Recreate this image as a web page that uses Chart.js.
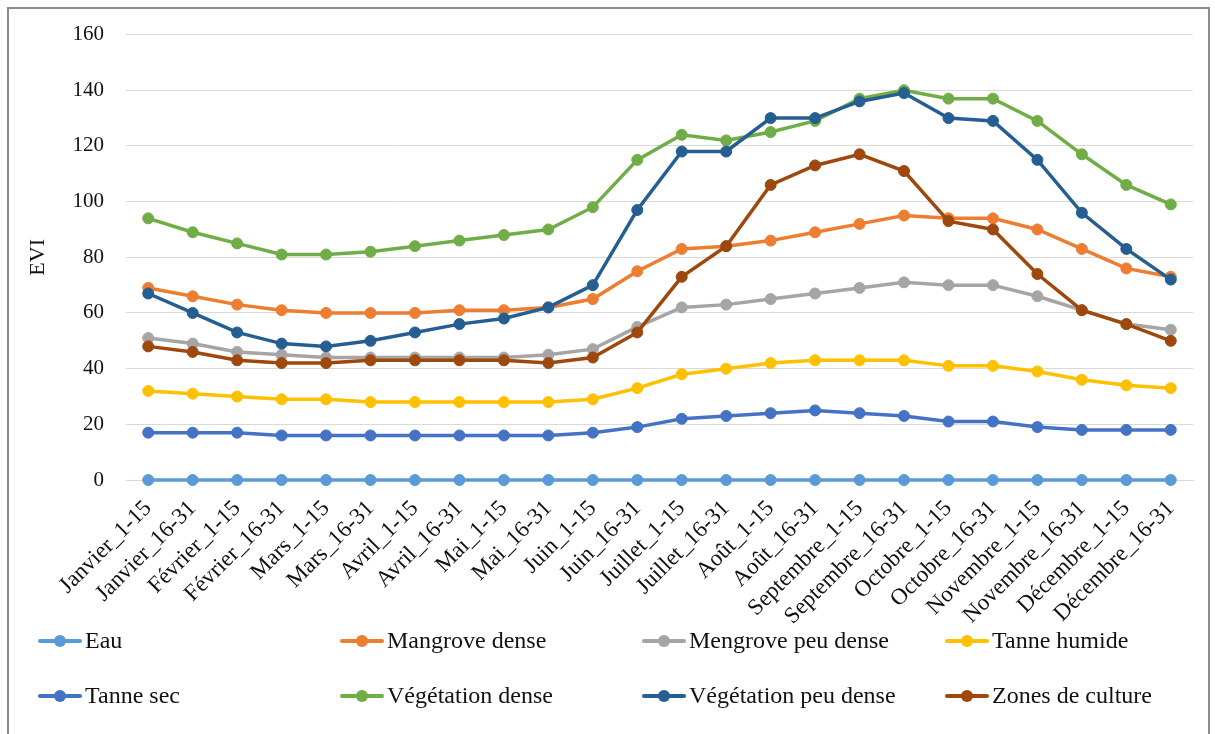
<!DOCTYPE html>
<html>
<head>
<meta charset="utf-8">
<script src="https://cdn.jsdelivr.net/npm/chart.js@4.4.1/dist/chart.umd.min.js"></script>
<style>
  html, body { margin: 0; padding: 0; background: #fff; }
  body { width: 1215px; height: 734px; position: relative; overflow: hidden; }
  #frame { position: absolute; left: 7px; top: 7px; width: 1203px; height: 760px; border: 2px solid #8c8c8c; box-sizing: border-box; pointer-events: none; }
  #c { position: absolute; left: 0; top: 0; }
</style>
</head>
<body>
<canvas id="c" width="1215" height="734"></canvas>
<div id="frame"></div>
<script>
const categories = ["Janvier_1-15","Janvier_16-31","Février_1-15","Février_16-31","Mars_1-15","Mars_16-31","Avril_1-15","Avril_16-31","Mai_1-15","Mai_16-31","Juin_1-15","Juin_16-31","Juillet_1-15","Juillet_16-31","Août_1-15","Août_16-31","Septembre_1-15","Septembre_16-31","Octobre_1-15","Octobre_16-31","Novembre_1-15","Novembre_16-31","Décembre_1-15","Décembre_16-31"];

const eau = [0,0,0,0,0,0,0,0,0,0,0,0,0,0,0,0,0,0,0,0,0,0,0,0];
const mangroveDense = [69,66,63,61,60,60,60,61,61,62,65,75,83,84,86,89,92,95,94,94,90,83,76,73];
const mengrovePeuDense = [51,49,46,45,44,44,44,44,44,45,47,55,62,63,65,67,69,71,70,70,66,61,56,54];
const tanneHumide = [32,31,30,29,29,28,28,28,28,28,29,33,38,40,42,43,43,43,41,41,39,36,34,33];
const tanneSec = [17,17,17,16,16,16,16,16,16,16,17,19,22,23,24,25,24,23,21,21,19,18,18,18];
const vegetationDense = [94,89,85,81,81,82,84,86,88,90,98,115,124,122,125,129,137,140,137,137,129,117,106,99];
const vegetationPeuDense = [67,60,53,49,48,50,53,56,58,62,70,97,118,118,130,130,136,139,130,129,115,96,83,72];
const zonesCulture = [48,46,43,42,42,43,43,43,43,42,44,53,73,84,106,113,117,111,93,90,74,61,56,50];

const yTicks = [0,20,40,60,80,100,120,140,160];
const yTitle = "EVI";

const seriesNames = ["Eau","Mangrove dense","Mengrove peu dense","Tanne humide","Tanne sec","Végétation dense","Végétation peu dense","Zones de culture"];
const seriesData = [eau, mangroveDense, mengrovePeuDense, tanneHumide, tanneSec, vegetationDense, vegetationPeuDense, zonesCulture];
const seriesColors = ["#5B9BD5","#ED7D31","#A5A5A5","#FFC000","#4472C4","#70AD47","#255E91","#9E480E"];

const FONT = "'Liberation Serif', 'Times New Roman', serif";

const datasets = seriesNames.map((n, i) => ({
  label: n,
  data: seriesData[i],
  borderColor: seriesColors[i],
  backgroundColor: seriesColors[i],
  pointBackgroundColor: seriesColors[i],
  pointBorderColor: seriesColors[i],
  borderWidth: 3.5,
  pointRadius: 5.5,
  pointBorderWidth: 1,
  pointHoverRadius: 5.5,
  tension: 0,
  fill: false,
  clip: 12,
  order: -i
}));

// Legend grid drawn on the canvas (Excel-like 4 columns x 2 rows)
const legendCols = [38, 340, 642, 945];
const legendRows = [641, 696];
const gridLegend = {
  id: 'gridLegend',
  afterDraw(chart) {
    const ctx = chart.ctx;
    ctx.save();
    chart.data.datasets.forEach((ds, i) => {
      const x = legendCols[i % 4];
      const y = legendRows[Math.floor(i / 4)];
      ctx.strokeStyle = ds.borderColor;
      ctx.lineWidth = 4;
      ctx.lineCap = 'round';
      ctx.beginPath();
      ctx.moveTo(x + 2, y);
      ctx.lineTo(x + 42, y);
      ctx.stroke();
      ctx.fillStyle = ds.borderColor;
      ctx.beginPath();
      ctx.arc(x + 22, y, 6, 0, Math.PI * 2);
      ctx.fill();
      ctx.fillStyle = '#111';
      ctx.font = '24px ' + FONT;
      ctx.textBaseline = 'middle';
      ctx.textAlign = 'left';
      ctx.fillText(ds.label, x + 47, y + 1);
    });
    ctx.restore();
  }
};

new Chart(document.getElementById('c'), {
  type: 'line',
  data: { labels: categories, datasets },
  plugins: [gridLegend],
  options: {
    responsive: false,
    animation: false,
    devicePixelRatio: 1,
    layout: { padding: { left: 25, top: 34, right: 22, bottom: 94 } },
    plugins: { legend: { display: false }, tooltip: { enabled: false } },
    scales: {
      x: {
        offset: true,
        grid: { display: false, drawTicks: false },
        border: { display: true, color: '#d9d9d9' },
        ticks: {
          autoSkip: false, minRotation: 45, maxRotation: 45, padding: 15,
          color: '#111', font: { family: FONT, size: 23 }
        },
        afterFit: (s) => { s.height = 160; }
      },
      y: {
        min: 0, max: 160,
        afterBuildTicks: (s) => { s.ticks = yTicks.map(v => ({ value: v })); },
        grid: { color: '#d9d9d9', lineWidth: 1, drawTicks: false },
        border: { display: false },
        ticks: { padding: 22, color: '#111', font: { family: FONT, size: 21 } },
        title: { display: true, text: yTitle, color: '#111', padding: 0, font: { family: FONT, size: 22 } },
        afterFit: (s) => { s.width = 101; }
      }
    }
  }
});
</script>
</body>
</html>
